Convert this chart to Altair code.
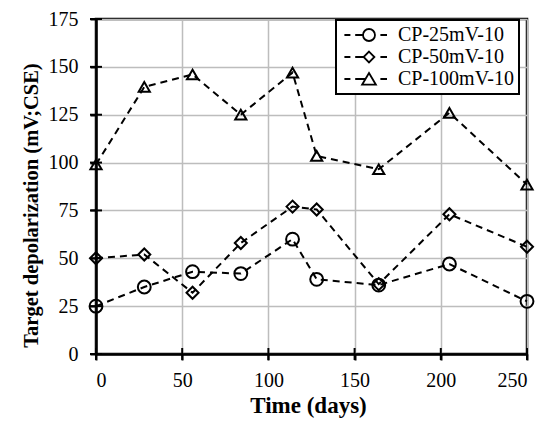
import altair as alt
import pandas as pd

days = [0, 28, 56, 84, 114, 128, 164, 205, 250]
cp25 = [25, 35, 43, 42, 60, 39, 36, 47, 27.5]
cp50 = [50, 52, 32, 58, 77, 75.5, 36.5, 73, 56]
cp100 = [99, 139.5, 146, 125, 147, 103.5, 96.5, 126, 88.5]
series_names = ["CP-25mV-10", "CP-50mV-10", "CP-100mV-10"]
y_ticks = [0, 25, 50, 75, 100, 125, 150, 175]
x_ticks = [0, 50, 100, 150, 200, 250]

rows = []
for name, vals in zip(series_names, [cp25, cp50, cp100]):
    for d, v in zip(days, vals):
        rows.append({"day": d, "value": v, "series": name})
df = pd.DataFrame(rows)
xtick_df = pd.DataFrame({"day": x_ticks, "value": [0] * len(x_ticks)})
ytick_df = pd.DataFrame({"day": [0] * len(y_ticks), "value": y_ticks})

FONT = "Liberation Serif"

x_enc = alt.X("day:Q", scale=alt.Scale(domain=[0, 250], nice=False),
              axis=alt.Axis(values=x_ticks, title="Time (days)", labelPadding=10,
                            titlePadding=4, titleFontSize=23, titleX=212))
y_enc = alt.Y("value:Q", scale=alt.Scale(domain=[0, 175], nice=False),
              axis=alt.Axis(values=y_ticks, title="Target depolarization (mV;CSE)",
                            labelPadding=12, titlePadding=7, titleFontSize=20.5,
                            titleY=186))

lines = alt.Chart(df).mark_line(color="black", strokeDash=[7, 5], strokeWidth=2).encode(
    x=x_enc, y=y_enc, detail="series:N")

points = alt.Chart(df).mark_point(filled=False, color="black", strokeWidth=2, opacity=1).encode(
    x=x_enc, y=y_enc,
    shape=alt.Shape("series:N", scale=alt.Scale(domain=series_names,
                                                range=["circle", "diamond", "triangle-up"]),
                    legend=None),
    size=alt.Size("series:N", scale=alt.Scale(domain=series_names, range=[165, 125, 210]),
                  legend=None),
)

# cross ticks on the axes (inner half of the tick marks)
xticks_layer = alt.Chart(xtick_df).mark_tick(orient="vertical", color="black", size=12,
                                             thickness=2, opacity=1).encode(x=x_enc, y=y_enc)
yticks_layer = alt.Chart(ytick_df).mark_tick(orient="horizontal", color="black", size=12,
                                             thickness=2, opacity=1).encode(x=x_enc, y=y_enc)

legend_paths = [
    "M-4.1,0H-3.1M-2.3,0H-1M1,0A1,1,0,1,1,-1,0A1,1,0,1,1,1,0M1.9,0H3",
    "M-4.1,0H-3.1M-2.3,0H-0.9M0,-0.9L0.9,0L0,0.9L-0.9,0ZM1.9,0H3",
    "M-4.1,0H-3.1M-2.3,0H-0.6M0,-1L1.15,0.95L-1.15,0.95ZM1.9,0H3",
]

legend_layer = alt.Chart(df).mark_point(filled=False, color="black", strokeWidth=1.8,
                                        size=144, opacity=1).encode(
    x=x_enc, y=y_enc,
    shape=alt.Shape("series:N", scale=alt.Scale(domain=series_names, range=legend_paths),
                    legend=alt.Legend(title=None, orient="none", legendX=240, legendY=1,
                                      symbolSize=144, symbolOffset=18, labelOffset=19,
                                      symbolStrokeWidth=1.8)),
).transform_filter("false")

chart = alt.layer(xticks_layer, yticks_layer, lines, points, legend_layer).resolve_scale(
    shape="independent", size="independent"
).properties(
    width=431, height=335,
    autosize=alt.AutoSizeParams(type="none"),
    padding={"left": 88, "top": 11, "right": 15, "bottom": 70},
).configure_view(
    stroke="black", strokeWidth=2.5
).configure_axis(
    domainColor="black", domainWidth=2.5, tickColor="black", tickWidth=2, tickSize=6,
    gridColor="#bdbdbd", gridWidth=1.5,
    labelFont=FONT, labelFontSize=20, labelColor="black",
    titleFont=FONT, titleFontWeight="bold", titleColor="black",
).configure_legend(
    strokeColor="black", strokeWidth=2, fillColor="white", padding=5,
    labelFont=FONT, labelFontSize=20, labelColor="black", rowPadding=2,
)

chart.save("out.html", embed_options={"renderer": "svg", "actions": False})
